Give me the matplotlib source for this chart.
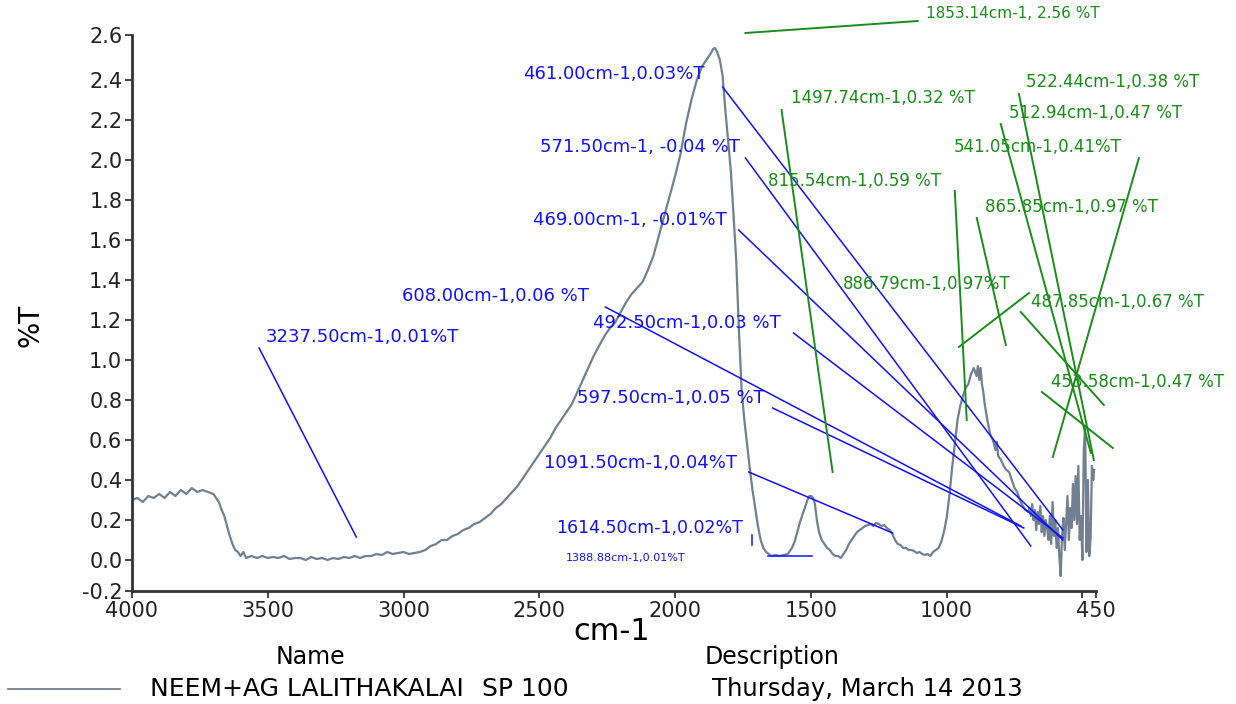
#!/usr/bin/env python
'''
IR spectrum, NEEM+AG LALITHAKALAI SP 100
%T vs wavenumber with peak pick labels
'''
import matplotlib
matplotlib.use('Agg')
import matplotlib.pyplot as plt
from matplotlib.lines import Line2D

# spectrum (cm-1, %T)
wavenumber = [
    4000, 3980, 3960, 3940, 3920, 3900, 3880, 3860, 3840, 3820,
    3800, 3780, 3760, 3740, 3720, 3700, 3690, 3680, 3670, 3660,
    3650, 3640, 3630, 3620, 3610, 3600, 3590, 3580, 3560, 3540,
    3520, 3500, 3480, 3460, 3440, 3420, 3400, 3380, 3360, 3340,
    3320, 3300, 3280, 3260, 3240, 3220, 3200, 3180, 3160, 3140,
    3120, 3100, 3080, 3060, 3040, 3020, 3000, 2980, 2960, 2940,
    2920, 2900, 2880, 2860, 2840, 2820, 2800, 2780, 2760, 2740,
    2720, 2700, 2680, 2660, 2640, 2620, 2600, 2580, 2560, 2540,
    2520, 2500, 2480, 2460, 2440, 2420, 2400, 2380, 2360, 2340,
    2320, 2300, 2280, 2260, 2240, 2220, 2200, 2180, 2160, 2140,
    2120, 2100, 2080, 2060, 2040, 2020, 2000, 1980, 1960, 1940,
    1920, 1900, 1880, 1870, 1860, 1853, 1845, 1835, 1825, 1815,
    1805, 1795, 1785, 1775, 1765, 1755, 1745, 1735, 1725, 1715,
    1705, 1695, 1685, 1675, 1665, 1655, 1645, 1630, 1615, 1600,
    1585, 1570, 1560, 1550, 1540, 1530, 1520, 1510, 1505, 1498,
    1492, 1485, 1478, 1470, 1460, 1450, 1440, 1430, 1420, 1410,
    1400, 1390, 1380, 1370, 1360, 1350, 1340, 1330, 1320, 1310,
    1300, 1290, 1280, 1270, 1260, 1250, 1240, 1230, 1220, 1210,
    1200, 1190, 1180, 1170, 1160, 1150, 1140, 1130, 1120, 1110,
    1100, 1090, 1080, 1070, 1060, 1050, 1040, 1030, 1020, 1010,
    1000, 990, 980, 970, 960, 950, 940, 930, 920, 910,
    900, 890, 885, 880, 875, 870, 865, 860, 850, 840,
    830, 820, 815, 810, 800, 790, 780, 770, 760, 750,
    740, 730, 720, 710, 700, 695, 690, 685, 680, 675,
    670, 665, 660, 655, 650, 645, 640, 635, 630, 625,
    620, 615, 610, 605, 600, 595, 590, 585, 580, 575,
    570, 565, 560, 555, 550, 545, 540, 535, 530, 525,
    520, 515, 510, 505, 500, 495, 490, 485, 480, 475,
    470, 465, 460, 457,
]
transmittance = [
    0.30, 0.31, 0.29, 0.32, 0.31, 0.33, 0.31, 0.34, 0.32, 0.35,
    0.33, 0.36, 0.34, 0.35, 0.34, 0.33, 0.31, 0.29, 0.25, 0.22,
    0.17, 0.12, 0.08, 0.05, 0.04, 0.02, 0.04, 0.01, 0.02, 0.01,
    0.02, 0.01, 0.015, 0.01, 0.02, 0.005, 0.01, 0.01, 0.0, 0.015,
    0.005, 0.01, 0.0, 0.01, 0.005, 0.015, 0.01, 0.02, 0.01, 0.02,
    0.02, 0.03, 0.025, 0.04, 0.03, 0.035, 0.04, 0.03, 0.035, 0.04,
    0.05, 0.07, 0.08, 0.10, 0.10, 0.12, 0.13, 0.15, 0.16, 0.18,
    0.19, 0.21, 0.23, 0.26, 0.28, 0.31, 0.34, 0.37, 0.41, 0.45,
    0.49, 0.53, 0.57, 0.61, 0.66, 0.70, 0.74, 0.78, 0.84, 0.90,
    0.96, 1.02, 1.07, 1.12, 1.16, 1.19, 1.24, 1.29, 1.33, 1.36,
    1.39, 1.45, 1.52, 1.62, 1.72, 1.82, 1.92, 2.03, 2.18, 2.30,
    2.40, 2.47, 2.51, 2.53, 2.555, 2.56, 2.54, 2.50, 2.42, 2.25,
    2.10, 1.95, 1.73, 1.50, 1.15, 0.85, 0.70, 0.58, 0.46, 0.35,
    0.26, 0.17, 0.10, 0.06, 0.04, 0.03, 0.02, 0.025, 0.02, 0.025,
    0.03, 0.06, 0.09, 0.14, 0.19, 0.23, 0.27, 0.31, 0.32, 0.32,
    0.31, 0.28, 0.20, 0.14, 0.10, 0.08, 0.06, 0.05, 0.03, 0.02,
    0.02, 0.01, 0.03, 0.05, 0.08, 0.10, 0.12, 0.14, 0.15, 0.16,
    0.17, 0.175, 0.18, 0.17, 0.185, 0.18, 0.17, 0.175, 0.16, 0.15,
    0.13, 0.10, 0.08, 0.075, 0.06, 0.06, 0.05, 0.05, 0.045, 0.035,
    0.04, 0.03, 0.025, 0.03, 0.02, 0.04, 0.05, 0.06, 0.09, 0.14,
    0.21, 0.32, 0.46, 0.58, 0.70, 0.77, 0.82, 0.86, 0.88, 0.93,
    0.96, 0.92, 0.97, 0.90, 0.96, 0.88, 0.84, 0.78, 0.70, 0.63,
    0.60, 0.55, 0.59, 0.52, 0.50, 0.47, 0.45, 0.44, 0.40, 0.36,
    0.34, 0.30, 0.27, 0.25, 0.24, 0.26, 0.22, 0.28, 0.20, 0.25,
    0.15, 0.24, 0.18, 0.27, 0.14, 0.22, 0.12, 0.20, 0.16, 0.10,
    0.22, 0.08, 0.29, 0.12, 0.20, 0.06, 0.16, 0.02, -0.08, 0.12,
    0.21, 0.05, 0.18, 0.32, 0.10, 0.26, 0.16, 0.38, 0.20, 0.42,
    0.18, 0.47, 0.10, 0.22, 0.00, 0.55, 0.67, 0.04, 0.40, 0.02,
    0.10, 0.47, 0.40, 0.45,
]

x_ticks = [4000, 3500, 3000, 2500, 2000, 1500, 1000, 500, 450]
x_ticklabels = ['4000', '3500', '3000', '2500', '2000', '1500', '1000', '', '450']
y_lo, y_hi = -0.155, 2.625
y_ticks = [y_lo, 0.0, 0.2, 0.4, 0.6, 0.8, 1.0, 1.2, 1.4, 1.6, 1.8, 2.0, 2.2, 2.4, y_hi]
y_ticklabels = ['-0.2', '0.0', '0.2', '0.4', '0.6', '0.8', '1.0', '1.2', '1.4',
                '1.6', '1.8', '2.0', '2.2', '2.4', '2.6']

# peak labels (blue set)
blue_labels = ['461.00cm-1,0.03%T', '571.50cm-1, -0.04 %T', '469.00cm-1, -0.01%T',
               '608.00cm-1,0.06 %T', '492.50cm-1,0.03 %T', '597.50cm-1,0.05 %T',
               '1091.50cm-1,0.04%T', '1614.50cm-1,0.02%T', '1388.88cm-1,0.01%T',
               '3237.50cm-1,0.01%T']
blue_text_xy = [(2559, 2.43), (2496, 2.065), (2522, 1.70), (3005, 1.32), (2301, 1.185),
                (2363, 0.81), (2481, 0.485), (2437, 0.16), (2404, 0.01), (3506, 1.115)]
blue_lines = [((1825, 572), (2.365, 0.15)), ((1741, 690), (2.01, 0.07)),
              ((1766, 572), (1.65, 0.10)), ((2257, 727), (1.265, 0.17)),
              ((1564, 572), (1.135, 0.11)), ((1641, 716), (0.76, 0.16)),
              ((1729, 1199), (0.44, 0.135)), ((1715, 1715), (0.125, 0.075)),
              ((1659, 1497), (0.02, 0.02)), ((3532, 3174), (1.06, 0.115))]
blue_sizes = [13, 13, 13, 13, 13, 13, 13, 12.5, 8, 13]

# peak labels (green set)
green_labels = ['1853.14cm-1, 2.56 %T', '1497.74cm-1,0.32 %T', '815.54cm-1,0.59 %T',
                '865.85cm-1,0.97 %T', '541.05cm-1,0.41%T', '522.44cm-1,0.38 %T',
                '512.94cm-1,0.47 %T', '886.79cm-1,0.97%T', '487.85cm-1,0.67 %T',
                '453.58cm-1,0.47 %T']
green_text_xy = [(1077, 2.735), (1575, 2.31), (1659, 1.895), (860, 1.765), (974, 2.065),
                 (708, 2.39), (771, 2.235), (1383, 1.38), (690, 1.29), (616, 0.89)]
green_lines = [((1741, 1107), (2.635, 2.695)), ((1608, 1420), (2.25, 0.44)),
               ((970, 926), (1.845, 0.70)), ((889, 782), (1.71, 1.075)),
               ((292, 609), (2.01, 0.515)), ((734, 458), (2.33, 0.50)),
               ((801, 469), (2.18, 0.535)), ((697, 955), (1.335, 1.065)),
               ((727, 421), (1.24, 0.775)), ((649, 388), (0.84, 0.56))]
green_sizes = [11, 12, 12, 12, 12, 12, 12, 12, 12, 12]

sample_name = 'NEEM+AG LALITHAKALAI'
sample_code = 'SP 100'
sample_desc = 'Thursday, March 14 2013'


def main():
    W, H = 1236, 704
    fig = plt.figure(figsize=(W / 100., H / 100.), dpi=100)
    ax = fig.add_axes([132. / W, 1 - 591. / H, (1096. - 132.) / W, (591. - 35.) / H])

    spec_col = '#708090'
    blue = '#1010ff'
    green = '#1a8c1a'

    ax.plot(wavenumber, transmittance, color=spec_col, lw=1.6)

    for (lx, ly), lab, fs in zip(blue_text_xy, blue_labels, blue_sizes):
        ax.text(lx, ly, lab, color=blue, fontsize=fs, ha='left', va='center', clip_on=False)
    for xs, ys in blue_lines:
        ax.plot(xs, ys, color=blue, lw=1.1, clip_on=False)

    for (lx, ly), lab, fs in zip(green_text_xy, green_labels, green_sizes):
        ax.text(lx, ly, lab, color=green, fontsize=fs, ha='left', va='center', clip_on=False)
    for xs, ys in green_lines:
        ax.plot(xs, ys, color=green, lw=1.4, clip_on=False)

    ax.set_xlim(4000, 450)
    ax.set_ylim(y_lo, y_hi)
    ax.set_xticks(x_ticks)
    ax.set_xticklabels(x_ticklabels)
    ax.set_yticks(y_ticks)
    ax.set_yticklabels(y_ticklabels)
    ax.tick_params(labelsize=15, length=5, width=1.2, pad=2, colors='#222222')

    for side in ['top', 'right']:
        ax.spines[side].set_visible(False)
    for side in ['left', 'bottom']:
        ax.spines[side].set_linewidth(2)
        ax.spines[side].set_color('#333333')

    # axis titles placed by hand like the instrument printout
    fig.text(30. / W, 1 - 325. / H, '%T', rotation=90, fontsize=20, ha='center', va='center')
    fig.text(612. / W, 1 - 632. / H, 'cm-1', fontsize=22, ha='center', va='center')

    # name / description block
    fig.text(310. / W, 1 - 657. / H, 'Name', fontsize=17, ha='center', va='center')
    fig.text(772. / W, 1 - 657. / H, 'Description', fontsize=17, ha='center', va='center')
    fig.add_artist(Line2D([8. / W, 120. / W], [1 - 689. / H, 1 - 689. / H], color=spec_col, lw=1.3))
    fig.text(150. / W, 1 - 689. / H, sample_name, fontsize=18, ha='left', va='center')
    fig.text(482. / W, 1 - 689. / H, sample_code, fontsize=18, ha='left', va='center')
    fig.text(712. / W, 1 - 689. / H, sample_desc, fontsize=17.5, ha='left', va='center')

    fig.savefig('out.png', dpi=100)


if __name__ == '__main__':
    main()
